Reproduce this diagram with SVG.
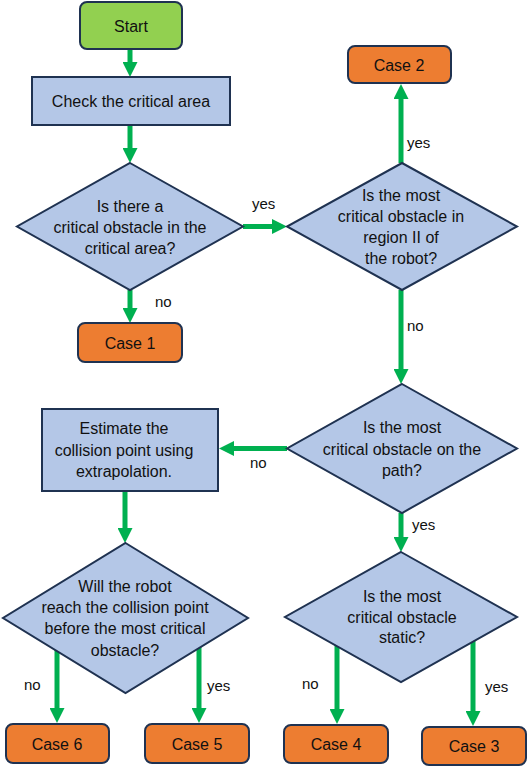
<svg xmlns="http://www.w3.org/2000/svg" width="528" height="766" viewBox="0 0 528 766">
<style>
  .proc { fill: #b4c7e7; stroke: #1f3251; stroke-width: 2; }
  .start { fill: #92d050; stroke: #1f3251; stroke-width: 2; }
  .case { fill: #ed7d31; stroke: #1f3251; stroke-width: 2; }
  .t { font-family: "Liberation Sans", Arial, sans-serif; font-size: 16px; fill: #111; text-anchor: middle; }
  .lbl { font-family: "Liberation Sans", Arial, sans-serif; font-size: 15px; fill: #111; }
  .conn { fill: none; stroke: #00b050; stroke-width: 5; marker-end: url(#ah); }
</style>
<defs>
  <marker id="ah" markerUnits="userSpaceOnUse" markerWidth="15" markerHeight="15" viewBox="0 0 15 15" refX="2" refY="7.5" orient="auto">
    <path d="M0,0 L15,7.5 L0,15 Z" fill="#00b050"/>
  </marker>
</defs>
<rect width="528" height="766" fill="#fff"/>

<g id="connectors">
  <path class="conn" d="M130,49 L130,64"/>
  <path class="conn" d="M130,125 L130,150"/>
  <path class="conn" d="M130,290 L130,310"/>
  <path class="conn" d="M243,226.5 L274,226.5"/>
  <path class="conn" d="M401,163 L401,97"/>
  <path class="conn" d="M401,290 L401,371"/>
  <path class="conn" d="M287,448.5 L232,448.5"/>
  <path class="conn" d="M125,491 L125,530"/>
  <path class="conn" d="M57,650 L57,710"/>
  <path class="conn" d="M199,647 L199,710"/>
  <path class="conn" d="M401,513 L401,539"/>
  <path class="conn" d="M337,643 L337,711"/>
  <path class="conn" d="M473,638 L473,713"/>
  <text class="lbl" x="252" y="209">yes</text>
  <text class="lbl" x="155" y="307">no</text>
  <text class="lbl" x="407" y="148">yes</text>
  <text class="lbl" x="407" y="331">no</text>
  <text class="lbl" x="250" y="468">no</text>
  <text class="lbl" x="412" y="530">yes</text>
  <text class="lbl" x="24" y="690">no</text>
  <text class="lbl" x="207" y="691">yes</text>
  <text class="lbl" x="302" y="689">no</text>
  <text class="lbl" x="485" y="692">yes</text>
</g>

<g id="start">
  <rect class="start" x="80" y="2" width="102" height="47" rx="7"/>
  <text class="t" x="131" y="32">Start</text>
</g>

<g id="check">
  <rect class="proc" x="32" y="77" width="198" height="48"/>
  <text class="t" x="131" y="107">Check the critical area</text>
</g>

<g id="d1">
  <polygon class="proc" points="130,163 243,226.5 130,290 17,226.5"/>
  <text class="t" x="130" y="212">Is there a</text>
  <text class="t" x="130" y="233">critical obstacle in the</text>
  <text class="t" x="130" y="254">critical area?</text>
</g>

<g id="case1">
  <rect class="case" x="78" y="323" width="104" height="39" rx="7"/>
  <text class="t" x="130" y="349">Case 1</text>
</g>

<g id="d2">
  <polygon class="proc" points="402,163 517,226.5 402,290 287,226.5"/>
  <text class="t" x="401" y="201">Is the most</text>
  <text class="t" x="401" y="222">critical obstacle in</text>
  <text class="t" x="401" y="243">region II of</text>
  <text class="t" x="401" y="264">the robot?</text>
</g>

<g id="case2">
  <rect class="case" x="348" y="46" width="103" height="37" rx="7"/>
  <text class="t" x="399" y="71">Case 2</text>
</g>

<g id="d3">
  <polygon class="proc" points="402,384 517,448.5 402,513 287,448.5"/>
  <text class="t" x="402" y="433">Is the most</text>
  <text class="t" x="402" y="455">critical obstacle on the</text>
  <text class="t" x="402" y="476">path?</text>
</g>

<g id="estimate">
  <rect class="proc" x="42" y="409" width="176" height="82"/>
  <text class="t" x="124" y="434">Estimate the</text>
  <text class="t" x="124" y="456">collision point using</text>
  <text class="t" x="124" y="477">extrapolation.</text>
</g>

<g id="d4">
  <polygon class="proc" points="125.5,543 248,618 125.5,693 3,618"/>
  <text class="t" x="125" y="592">Will the robot</text>
  <text class="t" x="125" y="613">reach the collision point</text>
  <text class="t" x="125" y="634">before the most critical</text>
  <text class="t" x="125" y="656">obstacle?</text>
</g>

<g id="d5">
  <polygon class="proc" points="401,552 517,617 401,682 285,617"/>
  <text class="t" x="402" y="602">Is the most</text>
  <text class="t" x="402" y="623">critical obstacle</text>
  <text class="t" x="402" y="643">static?</text>
</g>

<g id="case6">
  <rect class="case" x="6" y="724" width="103" height="39" rx="7"/>
  <text class="t" x="57" y="750">Case 6</text>
</g>

<g id="case5">
  <rect class="case" x="145" y="724" width="104" height="39" rx="7"/>
  <text class="t" x="197" y="750">Case 5</text>
</g>

<g id="case4">
  <rect class="case" x="284" y="725" width="104" height="38" rx="7"/>
  <text class="t" x="336" y="750">Case 4</text>
</g>

<g id="case3">
  <rect class="case" x="422" y="727" width="104" height="38" rx="7"/>
  <text class="t" x="474" y="752">Case 3</text>
</g>
</svg>
